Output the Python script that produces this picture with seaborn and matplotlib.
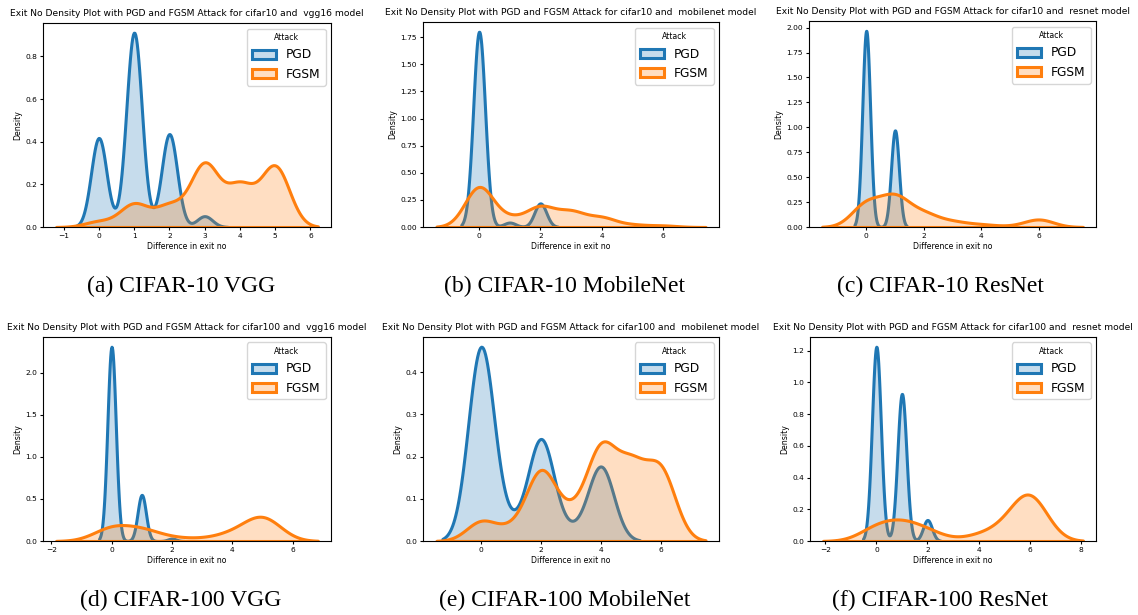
import numpy as np
import pandas as pd
import matplotlib
matplotlib.use('Agg')
import matplotlib.pyplot as plt
import seaborn as sns

# difference in exit number (integer values) and how many test images fall on each
exit_diff = [0, 1, 2, 3, 4, 5, 6]

vgg10_pgd = [115, 251, 120, 14, 0, 0, 0]
vgg10_fgsm = [13, 54, 49, 147, 95, 142, 0]
mob10_pgd = [306, 7, 37, 0, 0, 0, 0]
mob10_fgsm = [211, 41, 103, 77, 48, 12, 8]
res10_pgd = [335, 165, 0, 0, 0, 0, 0]
res10_fgsm = [145, 180, 77, 31, 15, 4, 48]
vgg100_pgd = [240, 57, 3, 0, 0, 0, 0]
vgg100_fgsm = [112, 88, 23, 16, 55, 206, 0]
mob100_pgd = [298, 20, 155, 13, 114, 0, 0]
mob100_fgsm = [28, 15, 99, 32, 128, 98, 100]
res100_pgd = [268, 203, 29, 0, 0, 0, 0]
res100_fgsm = [65, 78, 45, 0, 26, 50, 236]

datasets = ['cifar10', 'cifar10', 'cifar10', 'cifar100', 'cifar100', 'cifar100']
models = ['vgg16', 'mobilenet', 'resnet', 'vgg16', 'mobilenet', 'resnet']
captions = ['(a) CIFAR-10 VGG', '(b) CIFAR-10 MobileNet', '(c) CIFAR-10 ResNet',
            '(d) CIFAR-100 VGG', '(e) CIFAR-100 MobileNet', '(f) CIFAR-100 ResNet']
pgd_counts = [vgg10_pgd, mob10_pgd, res10_pgd, vgg100_pgd, mob100_pgd, res100_pgd]
fgsm_counts = [vgg10_fgsm, mob10_fgsm, res10_fgsm, vgg100_fgsm, mob100_fgsm, res100_fgsm]

W, H = 1138, 615
# axes boxes in pixels: left, top, right, bottom
boxes = [(43, 23, 331, 227), (423, 22, 719, 227), (809, 21, 1096, 227),
         (43, 337, 331, 541), (423, 337, 719, 541), (810, 337, 1096, 541)]
cap_x = [181, 565, 940, 181, 565, 940]
cap_y = [286, 286, 286, 600, 600, 600]

plt.rcParams['axes.linewidth'] = 0.8
plt.rcParams['xtick.labelsize'] = 5.4
plt.rcParams['ytick.labelsize'] = 5.4
plt.rcParams['xtick.major.size'] = 2.2
plt.rcParams['ytick.major.size'] = 2.2
plt.rcParams['xtick.major.pad'] = 2.0
plt.rcParams['ytick.major.pad'] = 2.0
plt.rcParams['axes.labelsize'] = 5.6
plt.rcParams['axes.labelpad'] = 2.5


def make_df(pgd, fgsm):
    x = np.concatenate([np.repeat(exit_diff, pgd), np.repeat(exit_diff, fgsm)])
    attack = ['PGD'] * sum(pgd) + ['FGSM'] * sum(fgsm)
    return pd.DataFrame({'Difference in exit no': x, 'Attack': attack})


fig = plt.figure(figsize=(W / 100, H / 100), dpi=100)

for i in range(6):
    l, t, r, b = boxes[i]
    ax = fig.add_axes([l / W, 1 - b / H, (r - l) / W, (b - t) / H])
    df = make_df(pgd_counts[i], fgsm_counts[i])
    sns.kdeplot(data=df[df['Attack'] == 'PGD'], x='Difference in exit no', fill=True,
                color='C0', linewidth=2.2, label='PGD', ax=ax)
    sns.kdeplot(data=df[df['Attack'] == 'FGSM'], x='Difference in exit no', fill=True,
                color='C1', linewidth=2.2, label='FGSM', ax=ax)
    ax.set_title('Exit No Density Plot with PGD and FGSM Attack for ' + datasets[i]
                 + ' and  ' + models[i] + ' model', fontsize=6.6, pad=5)
    ax.legend(title='Attack', fontsize=8.8, title_fontsize=5.6, loc='upper right',
              borderaxespad=0.45)
    fig.text(cap_x[i] / W, 1 - cap_y[i] / H, captions[i], ha='center', va='center',
             fontsize=17, family='Liberation Serif')

fig.savefig('out.png', dpi=100)
